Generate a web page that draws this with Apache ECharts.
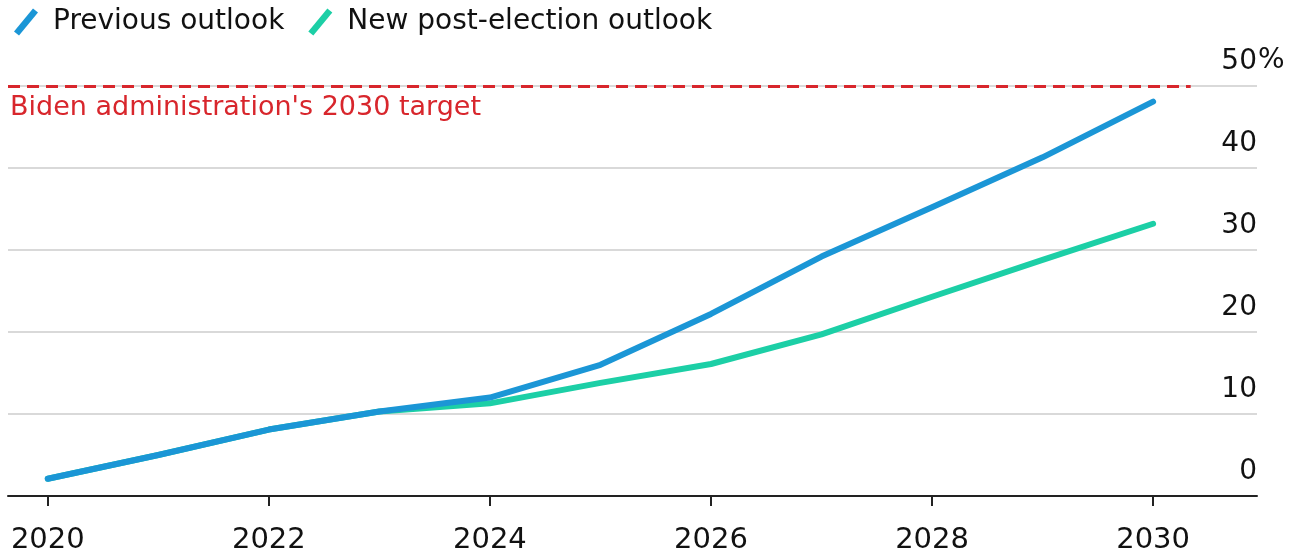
<!DOCTYPE html>
<html>
<head>
<meta charset="utf-8">
<script src="https://cdn.jsdelivr.net/npm/echarts@6/dist/echarts.min.js"></script>
<style>
    html, body { margin: 0; padding: 0; background: #fff; }
    #chart { width: 1290px; height: 556px; }
</style>
</head>
<body>
<div id="chart"></div>
<script>
// values (share of sales, %)
const years = [2020, 2021, 2022, 2023, 2024, 2025, 2026, 2027, 2028, 2029, 2030];
const previousOutlook = [2.1, 5.0, 8.1, 10.3, 12.0, 16.0, 22.2, 29.2, 35.2, 41.3, 48.1];
const newOutlook = [2.1, 5.0, 8.1, 10.3, 11.3, 13.8, 16.1, 19.7, 24.3, 28.8, 33.2];
const yearTicks = [2020, 2022, 2024, 2026, 2028, 2030];
const targetValue = 50;
const targetLabel = "Biden administration's 2030 target";

const blue = '#1b96d6';
const teal = '#1ccfa6';
const red = '#d8262c';
const font = '"DejaVu Sans", sans-serif';
const slash = 'path://M0,23 L5,27 L24,4 L19,0 Z';

const myChart = echarts.init(document.getElementById('chart'));

const option = {
    animation: false,
    textStyle: { fontFamily: font },
    legend: {
        left: 9,
        top: 3,
        itemWidth: 30,
        itemHeight: 27,
        itemGap: 24,
        textStyle: { fontSize: 28, color: '#111', fontFamily: font, padding: [0, 0, 0, 7] },
        data: [
            { name: 'Previous outlook', icon: slash, itemStyle: { color: blue } },
            { name: 'New post-election outlook', icon: slash, itemStyle: { color: teal } }
        ]
    },
    grid: { left: 8, right: 33, top: 86, bottom: 60 },
    xAxis: {
        type: 'value',
        min: 2019.64,
        max: 2030.94,
        splitLine: { show: false },
        axisLine: { show: true, lineStyle: { color: '#222', width: 2 } },
        axisTick: { show: true, length: 10, customValues: yearTicks, lineStyle: { color: '#222', width: 2 } },
        axisLabel: {
            customValues: yearTicks,
            fontSize: 29,
            color: '#111',
            margin: 30,
            formatter: v => String(v)
        }
    },
    yAxis: {
        type: 'value',
        position: 'right',
        min: 0,
        max: 50,
        interval: 10,
        axisLine: { show: false },
        axisTick: { show: false },
        splitLine: { lineStyle: { color: '#d9d9d9', width: 2 } },
        axisLabel: {
            inside: true,
            margin: 0,
            align: 'right',
            verticalAlign: 'bottom',
            padding: [0, 0, 10, 0],
            fontSize: 28,
            color: '#111',
            formatter: v => String(v)
        }
    },
    series: [
        {
            name: 'New post-election outlook',
            type: 'line',
            data: years.map((y, i) => [y, newOutlook[i]]),
            symbol: 'none',
            lineStyle: { color: teal, width: 6, cap: 'round', join: 'round' },
            itemStyle: { color: teal },
            z: 3
        },
        {
            name: 'Previous outlook',
            type: 'line',
            data: years.map((y, i) => [y, previousOutlook[i]]),
            symbol: 'none',
            lineStyle: { color: blue, width: 6, cap: 'round', join: 'round' },
            itemStyle: { color: blue },
            z: 4,
            markLine: {
                silent: true,
                symbol: 'none',
                data: [[
                    { coord: [2019.64, targetValue] },
                    { coord: [2030.34, targetValue] }
                ]],
                lineStyle: { color: red, type: [12, 7], width: 3 },
                label: {
                    show: true,
                    position: 'insideStartBottom',
                    formatter: targetLabel,
                    color: red,
                    fontSize: 27,
                    fontFamily: font,
                    distance: [2, 8]
                }
            }
        }
    ],
    graphic: [
        {
            type: 'text',
            left: 1258,
            top: 47,
            style: { text: '%', fontSize: 28, fill: '#111', fontFamily: font }
        }
    ]
};

myChart.setOption(option);
</script>
</body>
</html>
